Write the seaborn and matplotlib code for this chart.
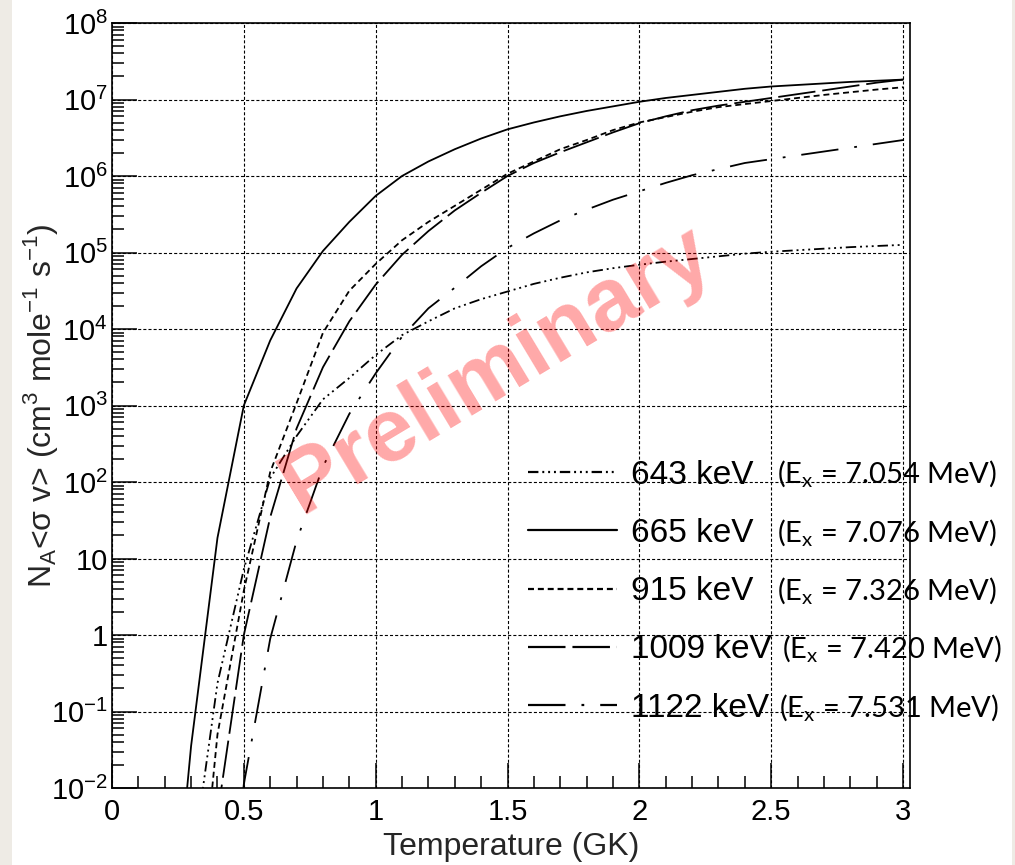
import matplotlib
matplotlib.use("Agg")
import matplotlib.pyplot as plt
from matplotlib.patches import Rectangle
from matplotlib.ticker import (FixedLocator, FixedFormatter, LogLocator,
                               MultipleLocator, NullFormatter)
import numpy as np
import pandas as pd
import seaborn as sns

# Resonance energies and the matching excitation energies
resonance_labels = ["643 keV", "665 keV", "915 keV", "1009 keV", "1122 keV"]
excitation_labels = [
    r"(E$_\mathregular{x}$ = 7.054 MeV)",
    r"(E$_\mathregular{x}$ = 7.076 MeV)",
    r"(E$_\mathregular{x}$ = 7.326 MeV)",
    r"(E$_\mathregular{x}$ = 7.420 MeV)",
    r"(E$_\mathregular{x}$ = 7.531 MeV)",
]

# Temperature grid (GK) on which the rates are tabulated
temp_gk = [0.2, 0.3, 0.4, 0.5, 0.6, 0.7, 0.8, 0.9, 1.0,
           1.1, 1.2, 1.3, 1.4, 1.5, 1.6, 1.7, 1.8, 1.9, 2.0,
           2.1, 2.2, 2.3, 2.4, 2.5, 2.6, 2.7, 2.8, 2.9, 3.0]

# log10 of the rate N_A<sigma v> (cm^3 mole^-1 s^-1) on that grid
log_rate_643 = [-8.0, -3.12, -0.63, 0.86, 2.05, 2.60, 3.08, 3.36, 3.66,
                3.92, 4.10, 4.27, 4.39, 4.49, 4.59, 4.67, 4.74, 4.795, 4.84,
                4.88, 4.915, 4.95, 4.985, 5.01, 5.03, 5.05, 5.07, 5.085, 5.10]
log_rate_665 = [-5.1, -1.45, 1.27, 3.0, 3.85, 4.53, 5.02, 5.40, 5.74,
                6.00, 6.19, 6.35, 6.49, 6.61, 6.70, 6.78, 6.85, 6.91, 6.97,
                7.02, 7.06, 7.10, 7.14, 7.17, 7.19, 7.21, 7.23, 7.245, 7.26]
log_rate_915 = [-10.0, -4.8, -1.3, 0.58, 2.13, 3.03, 3.95, 4.50, 4.85,
                5.16, 5.40, 5.61, 5.82, 6.03, 6.19, 6.35, 6.47, 6.60, 6.70,
                6.77, 6.84, 6.90, 6.94, 6.98, 7.02, 7.06, 7.095, 7.13, 7.16]
log_rate_1009 = [-11.0, -6.0, -2.35, 0.0, 1.54, 2.70, 3.50, 4.10, 4.58,
                 4.97, 5.28, 5.55, 5.78, 6.00, 6.17, 6.31, 6.44, 6.57, 6.69,
                 6.78, 6.86, 6.92, 6.97, 7.02, 7.07, 7.12, 7.17, 7.22, 7.26]
log_rate_1122 = [-12.0, -8.5, -5.5, -1.95, -0.05, 1.23, 2.20, 2.89, 3.42,
                 3.90, 4.27, 4.54, 4.82, 5.06, 5.25, 5.42, 5.56, 5.69, 5.80,
                 5.91, 6.01, 6.09, 6.17, 6.22, 6.27, 6.32, 6.37, 6.42, 6.47]

# Axis ticks
x_ticks = [0, 0.5, 1, 1.5, 2, 2.5, 3]
x_tick_labels = ["0", "0.5", "1", "1.5", "2", "2.5", "3"]
y_ticks = [1e-2, 1e-1, 1e0, 1e1, 1e2, 1e3, 1e4, 1e5, 1e6, 1e7, 1e8]
y_tick_labels = [r"$\mathregular{10^{-2}}$", r"$\mathregular{10^{-1}}$", "1", "10",
                 r"$\mathregular{10^{2}}$", r"$\mathregular{10^{3}}$",
                 r"$\mathregular{10^{4}}$", r"$\mathregular{10^{5}}$",
                 r"$\mathregular{10^{6}}$", r"$\mathregular{10^{7}}$",
                 r"$\mathregular{10^{8}}$"]

log_rates = [log_rate_643, log_rate_665, log_rate_915, log_rate_1009, log_rate_1122]

# Line styles (dash patterns in points)
line_styles = {
    "643 keV": (0, (7.5, 2.8, 1.4, 2.8, 1.4, 2.8, 1.4, 2.8)),
    "665 keV": "-",
    "915 keV": (0, (4.3, 2.8)),
    "1009 keV": (0, (27, 5)),
    "1122 keV": (0, (27, 11.5, 2, 11.5)),
}

sns.set_theme(style="white")
plt.rcParams["font.family"] = ["Liberation Sans", "DejaVu Sans"]
plt.rcParams["lines.scale_dashes"] = False
plt.rcParams["axes.edgecolor"] = "black"
plt.rcParams["text.color"] = "black"
plt.rcParams["xtick.color"] = "black"
plt.rcParams["ytick.color"] = "black"

W, H = 1015, 865
fig = plt.figure(figsize=(W / 100, H / 100), dpi=100, facecolor="white")
ax = fig.add_axes([112 / W, 1 - 788 / H, (910 - 112) / W, (788 - 23) / H])
ax.set_facecolor("white")

# Light side strips of the page
fig.add_artist(Rectangle((0, 0), 12 / W, 1, transform=fig.transFigure,
                         facecolor="#eeebe5", edgecolor="none", zorder=-5))
fig.add_artist(Rectangle((1012 / W, 0), 3 / W, 1, transform=fig.transFigure,
                         facecolor="#eeebe5", edgecolor="none", zorder=-5))

frames = [pd.DataFrame({"T": temp_gk, "rate": np.power(10.0, lr), "resonance": lab})
          for lr, lab in zip(log_rates, resonance_labels)]
data = pd.concat(frames, ignore_index=True)

curve_lines = []
for lab in resonance_labels:
    sub = data[data["resonance"] == lab]
    sns.lineplot(data=sub, x="T", y="rate", ax=ax, color="black",
                 linewidth=1.3, sort=False, estimator=None, label=lab)
    line = ax.lines[-1]
    line.set_linestyle(line_styles[lab])
    line.set_zorder(3)
    curve_lines.append(line)

ax.set_yscale("log")
ax.set_xlim(0, 3.0265)
ax.set_ylim(1e-2, 1e8)

ax.xaxis.set_major_locator(FixedLocator(x_ticks))
ax.xaxis.set_major_formatter(FixedFormatter(x_tick_labels))
ax.xaxis.set_minor_locator(MultipleLocator(0.1))
ax.yaxis.set_major_locator(FixedLocator(y_ticks))
ax.yaxis.set_major_formatter(FixedFormatter(y_tick_labels))
ax.yaxis.set_minor_locator(LogLocator(base=10, subs=range(2, 10), numticks=200))
ax.yaxis.set_minor_formatter(NullFormatter())

ax.tick_params(axis="both", which="both", direction="in", bottom=True,
               left=True, top=False, right=False, width=1.1, color="black")
ax.tick_params(axis="both", which="major", length=18, labelsize=21)
ax.tick_params(axis="both", which="minor", length=8.8)
ax.tick_params(axis="x", which="major", pad=7)
ax.tick_params(axis="y", which="major", pad=3)

for sp in ax.spines.values():
    sp.set_linewidth(1.2)
    sp.set_color("black")
    sp.set_zorder(4)

ax.grid(True, which="major", color="black", linewidth=0.8,
        linestyle=(0, (2.2, 1.5)))
ax.set_axisbelow(True)

ax.set_xlabel("Temperature (GK)", fontsize=23, va="top")
ax.xaxis.set_label_coords(0.5, -0.057)
ax.set_ylabel(r"N$_\mathregular{A}$<σ v> (cm$^\mathregular{3}$ mole$^\mathregular{-1}$ s$^\mathregular{-1}$)",
              fontsize=23, va="center")
ax.yaxis.set_label_coords(-0.089, 0.5)

leg = ax.legend(handles=curve_lines, labels=resonance_labels, loc="upper left",
                bbox_to_anchor=(528 / W, 1 - 459.5 / H),
                bbox_transform=fig.transFigure, frameon=False,
                prop={"family": "Liberation Sans", "size": 24},
                handlelength=2.67, handletextpad=0.42, labelspacing=0.82,
                borderpad=0, borderaxespad=0)
for h in leg.get_lines():
    h.set_linewidth(1.6)

# Excitation energies placed after each legend entry
fig.canvas.draw()
renderer = fig.canvas.get_renderer()
for txt, ex in zip(leg.get_texts(), excitation_labels):
    bb = txt.get_window_extent(renderer)
    _, _, desc = renderer.get_text_width_height_descent(
        "lp", txt.get_fontproperties(), ismath=False)
    x_px = max(777, bb.x1 + 10)
    fig.text(x_px / W, (bb.y0 + desc) / H, ex, family=["Lato", "DejaVu Sans"],
             fontsize=21, ha="left", va="baseline", color="black", zorder=6)

# Watermark
fig.text(497 / W, 1 - 370 / H, "Preliminary", rotation=31, rotation_mode="anchor",
         ha="center", va="center", fontsize=64, fontweight="bold",
         family="Liberation Sans", color="red", alpha=0.34, zorder=10)

fig.savefig("out.png", dpi=100, facecolor="white")
